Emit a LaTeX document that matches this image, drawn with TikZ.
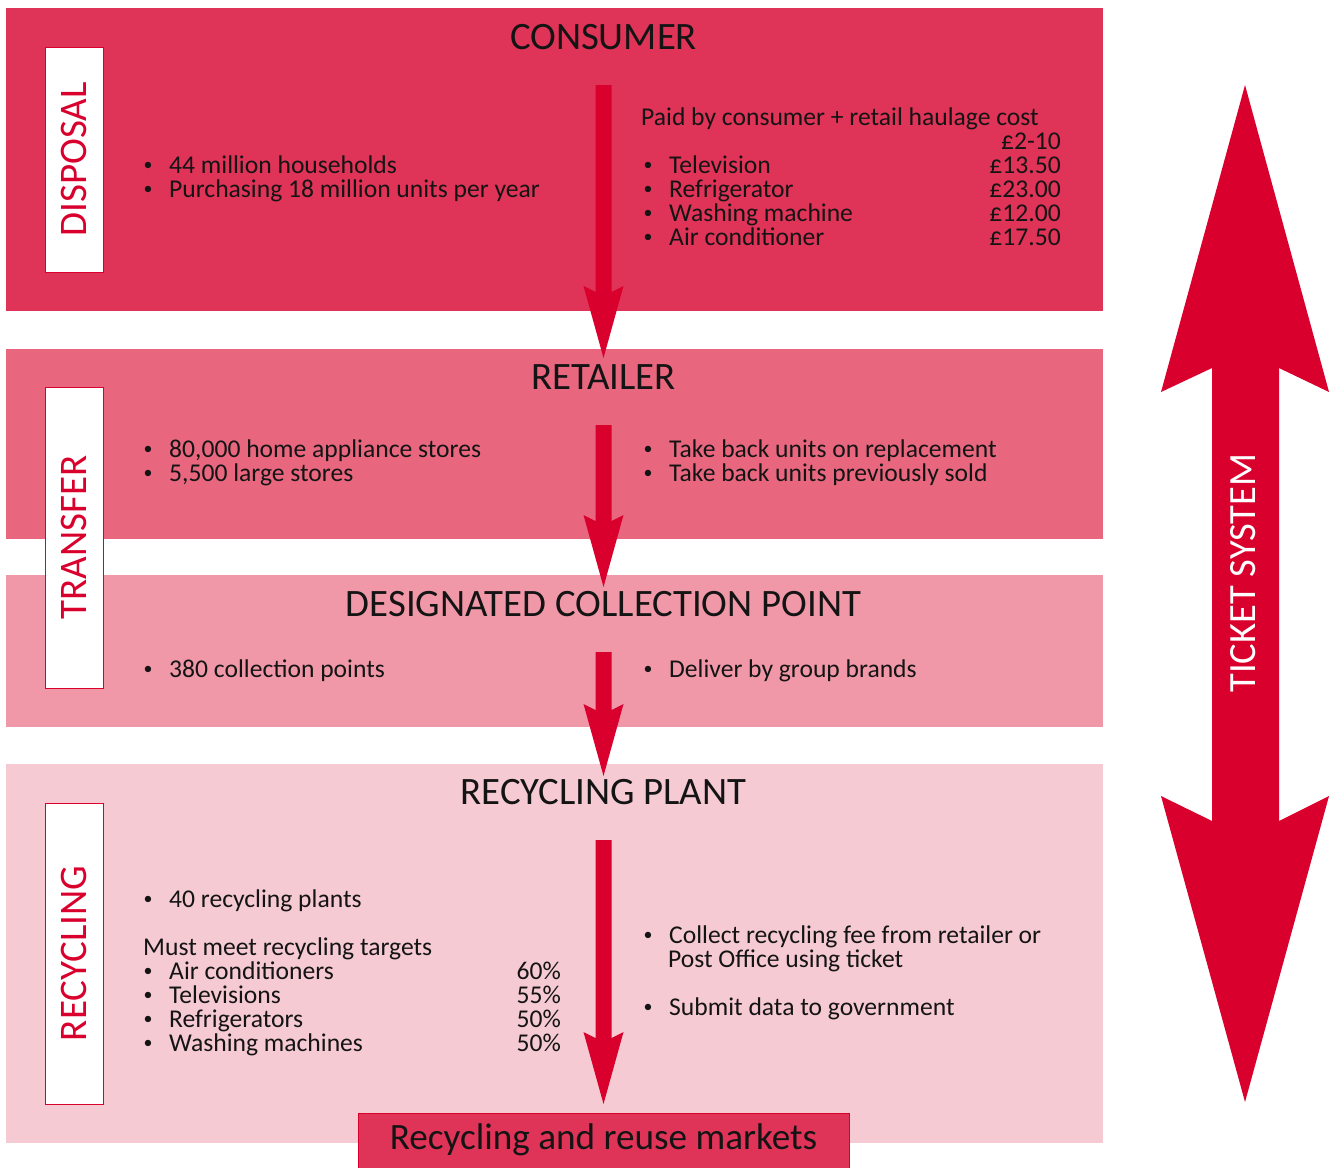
\documentclass[tikz,border=0pt]{standalone}
\usepackage{fontspec}
\setmainfont{Carlito}
\usetikzlibrary{calc}

\definecolor{pOne}{RGB}{224,51,88}
\definecolor{pTwo}{RGB}{232,103,127}
\definecolor{pThree}{RGB}{240,152,168}
\definecolor{pFour}{RGB}{246,202,211}
\definecolor{deepred}{RGB}{217,0,45}
\definecolor{ink}{RGB}{20,20,20}

\newcommand{\bodyfont}{\fontsize{25.6pt}{24pt}\selectfont}
\newcommand{\headfont}{\fontsize{38.8pt}{42pt}\selectfont}
\newcommand{\tagfont}{\fontsize{39pt}{42pt}\selectfont}
\newcommand{\dotmark}{\raisebox{2.6pt}{\scalebox{0.7}{\textbullet}}}

% bullet line: name, x of bullet, baseline y, text
\newcommand{\bitem}[4]{\node[body] (#1) at (#2,#3) {\makebox[0pt]{\dotmark}\hspace{21pt}#4};}

% thick flow arrow between two named points
\newcommand{\flowarrow}[2]{%
  \fill[deepred] let \p1=(#1), \p2=(#2) in
    (\x1-8pt,\y1) -- (\x1-8pt,\y2+66pt) -- (\x1-20pt,\y2+72pt) -- (\x2,\y2)
    -- (\x1+20pt,\y2+72pt) -- (\x1+8pt,\y2+66pt) -- (\x1+8pt,\y1) -- cycle;}

\begin{document}
\begin{tikzpicture}[x=1pt,y=-1pt,
  body/.style={anchor=base west,inner sep=0pt,font=\bodyfont,text=ink},
  head/.style={anchor=base,inner sep=0pt,font=\headfont,text=ink},
  tag/.style={draw=deepred,line width=1pt,fill=white,text=deepred,font=\tagfont,inner sep=0pt}]
\useasboundingbox (0,0) rectangle (1337,1167);

% stage panels
\fill[pOne]   (6,8)   rectangle (1103,311);
\fill[pTwo]   (6,349) rectangle (1103,539);
\fill[pThree] (6,575) rectangle (1103,727);
\fill[pFour]  (6,764) rectangle (1103,1143);

% phase tags
\node[tag,minimum width=225pt,minimum height=58pt,rotate=90] (disposal) at (74,159.5) {DISPOSAL};
\node[tag,minimum width=301pt,minimum height=58pt,rotate=90] (transfer) at (74,537.5) {TRANSFER};
\node[tag,minimum width=301pt,minimum height=58pt,rotate=90] (recycling) at (74,953.5) {RECYCLING};

% stage titles
\node[head] (consumer) at (603.5,49.5)  {CONSUMER};
\node[head] (retailer) at (603.5,389.5) {RETAILER};
\node[head] (collect)  at (603.5,616.5) {DESIGNATED COLLECTION POINT};
\node[head] (plant)    at (603.5,804.5) {RECYCLING PLANT};

% consumer
\bitem{hh}{148}{173}{44 million households}
\bitem{buy}{148}{197}{Purchasing 18 million units per year}
\node[body] (paid) at (641,125) {Paid by consumer + retail haulage cost};
\node[body,anchor=base east] (haul) at (1061,149) {£2-10};
\bitem{tv}{648}{173}{Television}
\bitem{fr}{648}{197}{Refrigerator}
\bitem{wm}{648}{221}{Washing machine}
\bitem{ac}{648}{245}{Air conditioner}
\node[body,anchor=base east] (ptv) at (1061,173) {£13.50};
\node[body,anchor=base east] (pfr) at (1061,197) {£23.00};
\node[body,anchor=base east] (pwm) at (1061,221) {£12.00};
\node[body,anchor=base east] (pac) at (1061,245) {£17.50};

% retailer
\bitem{st1}{148}{457}{80,000 home appliance stores}
\bitem{st2}{148}{481}{5,500 large stores}
\bitem{tb1}{648}{457}{Take back units on replacement}
\bitem{tb2}{648}{481}{Take back units previously sold}

% collection point
\bitem{cp}{148}{677}{380 collection points}
\bitem{gb}{648}{677}{Deliver by group brands}

% recycling plant
\bitem{rp}{148}{907}{40 recycling plants}
\node[body] (must) at (143,955) {Must meet recycling targets};
\bitem{t1}{148}{979}{Air conditioners}
\bitem{t2}{148}{1003}{Televisions}
\bitem{t3}{148}{1027}{Refrigerators}
\bitem{t4}{148}{1051}{Washing machines}
\node[body,anchor=base east] (q1) at (561,979)  {60\%};
\node[body,anchor=base east] (q2) at (561,1003) {55\%};
\node[body,anchor=base east] (q3) at (561,1027) {50\%};
\node[body,anchor=base east] (q4) at (561,1051) {50\%};
\bitem{fee}{648}{943}{Collect recycling fee from retailer or}
\node[body] (fee2) at (668,967) {Post Office using ticket};
\bitem{gov}{648}{1015}{Submit data to government}

% end market
\draw[deepred,line width=1pt,fill=pOne] (358,1113) rectangle (849,1175);
\node[head,font=\fontsize{37.2pt}{40pt}\selectfont] (markets) at (603.5,1149) {Recycling and reuse markets};

% flow arrows
\coordinate (c-out) at (603.5,85);   \coordinate (r-in) at (603.5,358);
\coordinate (r-out) at (603.5,425);  \coordinate (d-in) at (603.5,587);
\coordinate (d-out) at (603.5,652);  \coordinate (p-in) at (603.5,776);
\coordinate (p-out) at (603.5,840);  \coordinate (m-in) at (603.5,1104);
\flowarrow{c-out}{r-in}
\flowarrow{r-out}{d-in}
\flowarrow{d-out}{p-in}
\flowarrow{p-out}{m-in}

% ticket system double arrow
\coordinate (tk-top) at (1245,85);
\coordinate (tk-bot) at (1245,1102);
\fill[deepred] let \p1=(tk-top), \p2=(tk-bot) in
  (\p1) -- (\x1+84pt,\y1-307pt) -- (\x1+34pt,\y1-283pt) -- (\x1+34pt,\y2+281pt)
  -- (\x1+84pt,\y2+306pt) -- (\p2) -- (\x1-84pt,\y2+306pt) -- (\x1-33pt,\y2+281pt)
  -- (\x1-33pt,\y1-283pt) -- (\x1-84pt,\y1-307pt) -- cycle;
\node[rotate=90,text=white,inner sep=0pt,font=\fontsize{38.5pt}{40pt}\selectfont] (ticket) at (1243,573) {TICKET SYSTEM};
\end{tikzpicture}
\end{document}
